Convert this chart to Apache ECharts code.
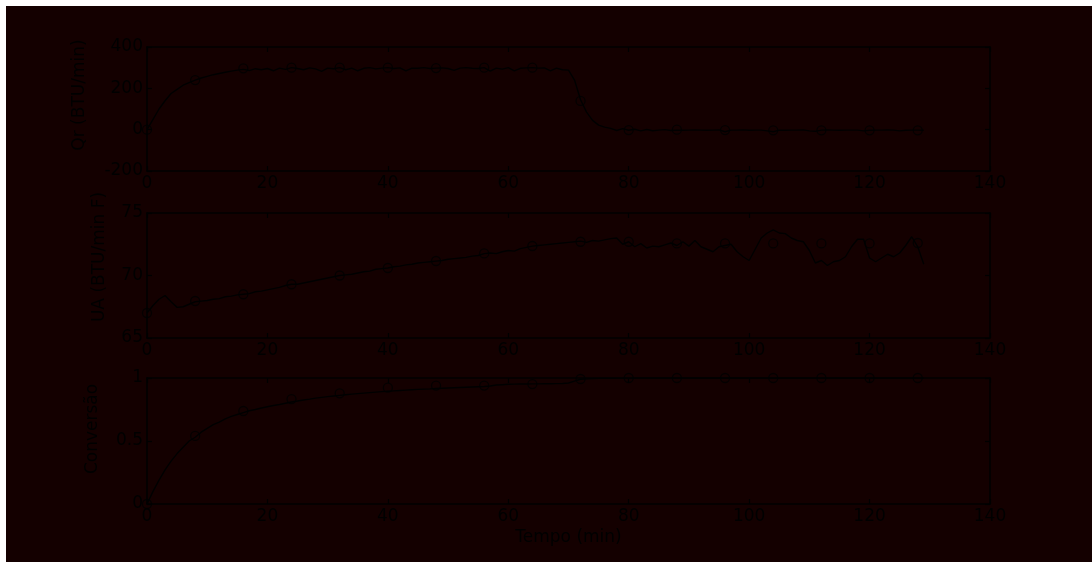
<!DOCTYPE html>
<html>
<head>
<meta charset="utf-8">
<script src="https://cdn.jsdelivr.net/npm/echarts@6/dist/echarts.min.js"></script>
<style>
html,body{margin:0;padding:0;background:#ffffff;width:1092px;height:562px;overflow:hidden;}
#frame{position:absolute;left:6px;top:6px;width:1086px;height:556px;background:#140000;}
#chart{width:1086px;height:556px;}
</style>
</head>
<body>
<div id="frame"><div id="chart"></div></div>
<script>
// ---- data ----
const tempo = [0,1,2,3,4,5,6,7,8,9,10,11,12,13,14,15,16,17,18,19,20,21,22,23,24,25,26,27,28,29,30,31,32,33,34,35,36,37,38,39,40,41,42,43,44,45,46,47,48,49,50,51,52,53,54,55,56,57,58,59,60,61,62,63,64,65,66,67,68,69,70,71,72,73,74,75,76,77,78,79,80,81,82,83,84,85,86,87,88,89,90,91,92,93,94,95,96,97,98,99,100,101,102,103,104,105,106,107,108,109,110,111,112,113,114,115,116,117,118,119,120,121,122,123,124,125,126,127,128,129];

const qr = [0,50,100,140,175,195,215,228,240,250,258,266,272,278,283,288,292,286,295,290,
296,285,298,292,300,296,290,299,294,282,298,295,300,290,298,285,297,300,294,298,
300,296,299,284,298,297,300,296,298,299,296,287,298,300,297,296,300,283,298,293,
300,284,297,299,300,298,299,285,298,290,288,240,145,85,45,22,12,6,-4,5,
-3,2,-6,1,-5,-2,0,-4,-2,-3,-2,-1,-2,-3,-2,-1,-10,-2,-2,-1,
-3,-2,-2,-6,-10,-2,-3,-2,-2,-1,-6,-8,-2,-1,-2,-3,-2,-2,-2,-6,
-3,-2,-2,-1,-2,-6,-3,-2,-2,-3];

const ua = [67.0,67.6,68.1,68.4,67.9,67.45,67.5,67.7,67.9,67.95,68.0,68.1,68.15,68.3,68.35,68.45,68.5,68.55,68.7,68.75,
68.85,68.95,69.05,69.2,69.3,69.3,69.4,69.5,69.6,69.7,69.8,69.9,70.0,70.05,70.1,70.2,70.3,70.35,70.5,70.55,
70.6,70.7,70.75,70.85,70.9,71.0,71.05,71.1,71.15,71.2,71.3,71.35,71.4,71.45,71.55,71.6,71.75,71.8,71.75,71.9,
72.0,71.95,72.15,72.25,72.35,72.4,72.45,72.5,72.55,72.6,72.65,72.7,72.75,72.65,72.8,72.75,72.85,72.95,73.0,72.5,
72.7,72.3,72.55,72.2,72.35,72.3,72.45,72.6,72.4,72.7,72.35,72.8,72.3,72.1,71.9,72.3,72.4,72.5,71.9,71.5,
71.2,72.1,73.0,73.4,73.65,73.4,73.35,73.0,72.8,72.7,72.0,71.0,71.2,70.8,71.1,71.2,71.5,72.3,72.9,72.9,
71.4,71.1,71.4,71.7,71.5,71.8,72.4,73.1,72.3,70.9];

const conversao = [0,0.1,0.19,0.27,0.34,0.4,0.45,0.5,0.53,0.57,0.6,0.63,0.65,0.675,0.695,0.71,0.725,0.74,0.75,0.762,
0.772,0.782,0.79,0.8,0.81,0.817,0.825,0.832,0.84,0.846,0.852,0.857,0.862,0.867,0.872,0.876,0.88,0.884,0.888,0.892,
0.895,0.898,0.901,0.904,0.907,0.91,0.912,0.914,0.917,0.919,0.921,0.923,0.925,0.927,0.929,0.931,0.933,0.936,0.944,0.947,
0.95,0.951,0.952,0.952,0.953,0.953,0.954,0.954,0.955,0.956,0.96,0.975,0.99,0.993,0.995,0.997,0.998,0.998,0.999,0.999,
0.999,0.999,1.0,1.0,1.0,1.0,1.0,1.0,1.0,1.0,1.0,1.0,1.0,1.0,1.0,1.0,1.0,1.0,1.0,1.0,
1.0,1.0,1.0,1.0,1.0,1.0,1.0,1.0,1.0,1.0,1.0,1.0,1.0,1.0,1.0,1.0,1.0,1.0,1.0,1.0,
1.0,1.0,1.0,1.0,1.0,1.0,1.0,1.0,1.0,1.0];

const tempoMarc = [0,8,16,24,32,40,48,56,64,72,80,88,96,104,112,120,128];
const qrMarc = [0,240,297,300,300,300,298,300,300,139,-2,0,-2,-3,-3,-3,-3];
const uaMarc = [67.0,67.96,68.5,69.3,70.0,70.6,71.16,71.77,72.36,72.7,72.7,72.57,72.57,72.57,72.57,72.57,72.6];
const convMarc = [0,0.54,0.738,0.833,0.878,0.923,0.94,0.94,0.952,0.992,1.0,1.0,1.0,1.0,1.0,1.0,1.0];

const xTicks = [0,20,40,60,80,100,120,140];
const yLabels = ['Qr (BTU/min)', 'UA (BTU/min F)', 'Conversão'];
const xLabel = 'Tempo (min)';

// ---- chart ----
const FONT = 'DejaVu Sans';
const INK = '#000000';
const FS = 17;
const grids = [
  {left:141, top:41, width:843, height:124},
  {left:141, top:207, width:843, height:125},
  {left:141, top:372, width:843, height:126}
];
const yRanges = [[-200,400,200],[65,75,5],[0,1,0.5]];

function zip(a,b){ return a.map((v,i)=>[v,b[i]]); }

const xAxes = [], yAxes = [];
grids.forEach((g,i)=>{
  const common = {
    gridIndex:i, type:'value', min:0, max:140, interval:20,
    axisLine:{show:true, onZero:false, lineStyle:{color:INK, width:1.6}},
    axisTick:{show:true, inside:true, length:5, lineStyle:{color:INK, width:1.3}},
    splitLine:{show:false}
  };
  xAxes.push(Object.assign({}, common, {
    position:'bottom',
    axisLabel:{show:true, color:INK, fontFamily:FONT, fontSize:FS, margin:4},
    name: i===2 ? xLabel : '',
    nameLocation:'middle', nameGap:25,
    nameTextStyle:{color:INK, fontFamily:FONT, fontSize:FS}
  }));
  xAxes.push(Object.assign({}, common, {position:'top', axisLabel:{show:false}}));
  const r = yRanges[i];
  const ycommon = {
    gridIndex:i, type:'value', min:r[0], max:r[1], interval:r[2],
    axisLine:{show:true, onZero:false, lineStyle:{color:INK, width:1.6}},
    axisTick:{show:true, inside:true, length:5, lineStyle:{color:INK, width:1.3}},
    splitLine:{show:false}
  };
  yAxes.push(Object.assign({}, ycommon, {
    position:'left',
    axisLabel:{show:true, color:INK, fontFamily:FONT, fontSize:FS, margin:4}
  }));
  yAxes.push(Object.assign({}, ycommon, {position:'right', axisLabel:{show:false}}));
});

const lineData = [qr, ua, conversao];
const markData = [qrMarc, uaMarc, convMarc];
const series = [];
for (let i=0;i<3;i++){
  series.push({
    type:'line', xAxisIndex:2*i, yAxisIndex:2*i,
    data: zip(tempo, lineData[i]), showSymbol:false, symbol:'none',
    lineStyle:{color:INK, width:1.4}, silent:true
  });
  series.push({
    type:'scatter', xAxisIndex:2*i, yAxisIndex:2*i,
    data: zip(tempoMarc, markData[i]), symbol:'circle', symbolSize:9,
    itemStyle:{color:'rgba(0,0,0,0)', borderColor:INK, borderWidth:1.3}
  });
}

const nameCenters = [[74,89],[94,251],[87,423]];
const graphic = yLabels.map((t,i)=>({
  type:'text', x:nameCenters[i][0], y:nameCenters[i][1], rotation:Math.PI/2,
  style:{text:t, fill:INK, font:FS+'px "'+FONT+'"', textAlign:'center', textVerticalAlign:'middle'}
}));

const chart = echarts.init(document.getElementById('chart'), null, {renderer:'canvas'});
chart.setOption({
  animation:false,
  backgroundColor:'#140000',
  grid: grids,
  xAxis: xAxes,
  yAxis: yAxes,
  series: series,
  graphic: graphic
});
</script>
</body>
</html>
